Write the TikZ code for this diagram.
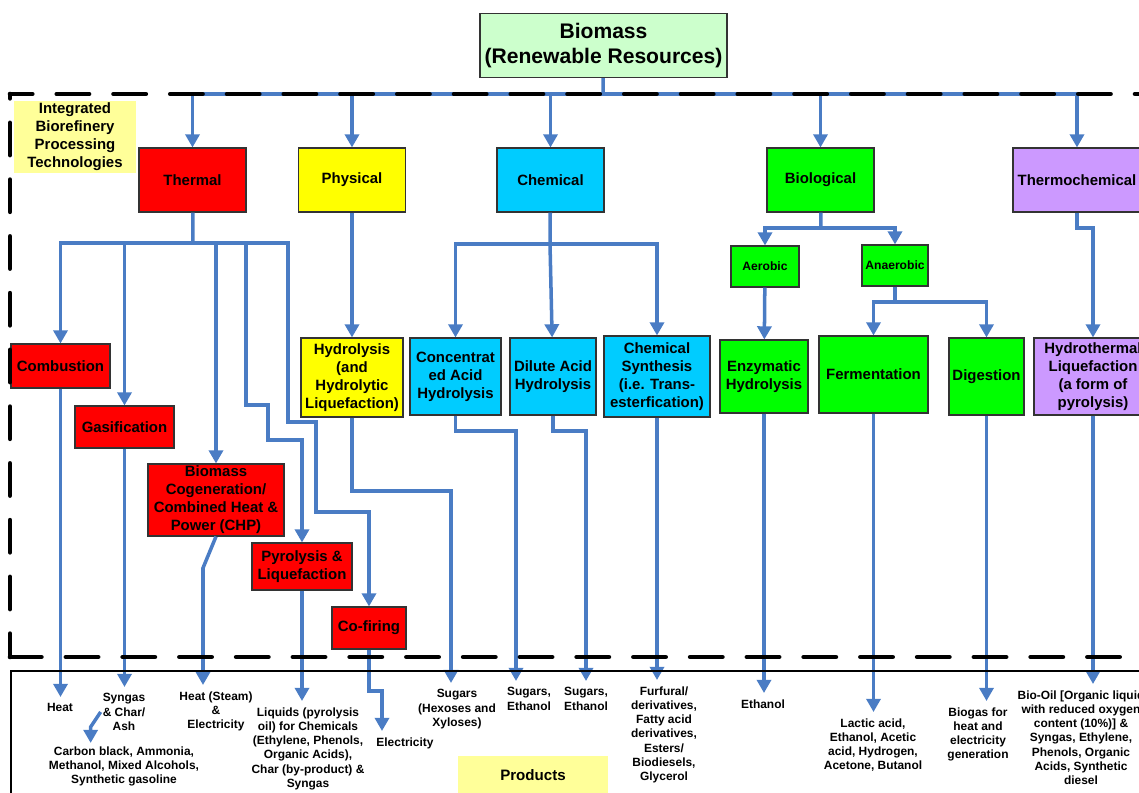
\documentclass[tikz,border=0pt]{standalone}
\usepackage{fontspec}
\setmainfont{Liberation Sans}
\usetikzlibrary{arrows.meta}
\definecolor{flowblue}{RGB}{74,124,196}
\definecolor{massgreen}{RGB}{204,255,204}
\definecolor{notey}{RGB}{255,255,153}
\definecolor{thermred}{RGB}{255,0,0}
\definecolor{physyel}{RGB}{255,255,0}
\definecolor{chemcyan}{RGB}{0,204,255}
\definecolor{biogreen}{RGB}{0,255,0}
\definecolor{tcpurple}{RGB}{204,153,255}

\begin{document}
\begin{tikzpicture}[x=0.02cm, y=-0.02cm,
  box/.style={draw=black!80, line width=0.6pt, align=center, inner sep=1pt,
    font=\fontsize{8.5}{10.2}\selectfont\bfseries},
  sz/.style 2 args={minimum width=#1*0.02cm, minimum height=#2*0.02cm},
  small/.style={font=\fontsize{6.9}{8}\selectfont\bfseries},
  prod/.style={anchor=north, align=center, inner xsep=1pt, inner ysep=3.5pt,
    font=\fontsize{6.8}{8.1}\selectfont\bfseries},
  link/.style={draw=flowblue, line width=2pt},
  arr/.style={link, -{Triangle[width=8pt,length=7.5pt]}},
  frame/.style={line width=2.6pt, line cap=round, dash pattern=on 18.4pt off 13.9pt}]
\useasboundingbox (0,0) rectangle (1139,793);
\clip (0,0) rectangle (1139,793);

% top level
\node[box, fill=massgreen, sz={247}{64}, font=\fontsize{12}{14.2}\selectfont\bfseries] (biomass) at (603.5,45.5) {Biomass\\(Renewable Resources)};
\node[fill=notey, sz={122}{72}, align=center, inner sep=1pt, font=\fontsize{8.5}{10.2}\selectfont\bfseries] (note) at (75,137) {Integrated\\Biorefinery\\Processing\\Technologies};
\coordinate (bus) at (603,94);

\node[box, fill=thermred, sz={107}{64}] (thermal) at (192.5,180) {Thermal};
\node[box, fill=physyel, sz={107}{64}] (phys) at (352,180) {Physical};
\node[box, fill=chemcyan, sz={107}{64}] (chem) at (550.5,180) {Chemical};
\node[box, fill=biogreen, sz={107}{64}] (bio) at (820.5,180) {Biological};
\node[box, fill=tcpurple, sz={128}{64}] (thch) at (1077,180) {Thermochemical};

% thermal
\node[box, fill=thermred, sz={99}{44}] (comb) at (60.5,366) {Combustion};
\node[box, fill=thermred, sz={99}{42}] (gas) at (124.5,427) {Gasification};
\node[box, fill=thermred, sz={136}{72}] (chp) at (216,500) {Biomass\\Cogeneration/\\Combined Heat \&\\Power (CHP)};
\node[box, fill=thermred, sz={100}{47}] (pyro) at (302,566.5) {Pyrolysis \&\\Liquefaction};
\node[box, fill=thermred, sz={74}{42}] (cofire) at (369,628) {Co-firing};

% physical and chemical
\node[box, fill=physyel, sz={102}{79}] (hydro) at (352,377.5) {Hydrolysis\\(and\\Hydrolytic\\Liquefaction)};
\node[box, fill=chemcyan, sz={91}{77}] (conc) at (455.5,376.5) {Concentrat\\ed Acid\\Hydrolysis};
\node[box, fill=chemcyan, sz={86}{77}] (dil) at (553,376.5) {Dilute Acid\\Hydrolysis};
\node[box, fill=chemcyan, sz={106}{81}] (chsyn) at (657,376.5) {Chemical\\Synthesis\\(i.e. Trans-\\esterfication)};

% biological and thermochemical
\node[box, small, fill=biogreen, sz={68}{41}] (aer) at (765,266.5) {Aerobic};
\node[box, small, fill=biogreen, sz={66}{41}] (anaer) at (895,265.5) {Anaerobic};
\node[box, fill=biogreen, sz={88}{73}] (enz) at (764,376.5) {Enzymatic\\Hydrolysis};
\node[box, fill=biogreen, sz={109}{77}] (ferm) at (873.5,374.5) {Fermentation};
\node[box, fill=biogreen, sz={75}{77}] (dig) at (986.5,376.5) {Digestion};
\node[box, fill=tcpurple, sz={118}{77}] (hyth) at (1093,376.5) {Hydrothermal\\Liquefaction\\(a form of\\pyrolysis)};

% products
\node[fill=notey, sz={150}{38}, font=\fontsize{8.6}{10}\selectfont\bfseries] (products) at (533,775) {Products};
\node[prod] (heat) at (60,697) {Heat};
\node[prod] (syngas) at (124,687) {Syngas\\\& Char/\\Ash};
\node[prod] (carbon) at (124,740) {Carbon black, Ammonia,\\Methanol, Mixed Alcohols,\\Synthetic gasoline};
\node[prod] (steam) at (216,685) {Heat (Steam)\\\&\\Electricity};
\node[prod] (liquids) at (308,701) {Liquids (pyrolysis\\oil) for Chemicals\\(Ethylene, Phenols,\\Organic Acids),\\Char (by-product) \&\\Syngas};
\node[prod] (elec) at (405,731) {Electricity};
\node[prod] (sugars) at (457,683) {Sugars\\(Hexoses and\\Xyloses)};
\node[prod] (sug1) at (529,681) {Sugars,\\Ethanol};
\node[prod] (sug2) at (586,681) {Sugars,\\Ethanol};
\node[prod] (furf) at (664,680) {Furfural/\\derivatives,\\Fatty acid\\derivatives,\\Esters/\\Biodiesels,\\Glycerol};
\node[prod] (eth) at (763,693) {Ethanol};
\node[prod] (lactic) at (873,712) {Lactic acid,\\Ethanol, Acetic\\acid, Hydrogen,\\Acetone, Butanol};
\node[prod] (biogas) at (978,701) {Biogas for\\heat and\\electricity\\generation};
\node[prod] (biooil) at (1081,684) {Bio-Oil [Organic liquid\\with reduced oxygen\\content (10\%)] \&\\Syngas, Ethylene,\\Phenols, Organic\\Acids, Synthetic\\diesel};

% biomass to technologies
\draw[link] (biomass) -- (bus);
\draw[link] (thermal |- bus) -- (thch |- bus);
\draw[arr] (thermal |- bus) -- (thermal);
\draw[arr] (phys |- bus) -- (phys);
\draw[arr] (chem |- bus) -- (chem);
\draw[arr] (bio |- bus) -- (bio);
\draw[arr] (thch |- bus) -- (thch);

% thermal branches
\coordinate (tb) at (193,243);
\draw[link] (thermal) -- (tb);
\draw[arr] (tb) -| (comb);
\draw[arr] (tb) -| (gas);
\draw[arr] (tb) -| (chp);
\draw[arr] (tb) -| (246,405) -| (268,440) -| (pyro);
\draw[arr] (tb) -| (288,422) -| (316,512) -| (cofire);
\draw[arr] (comb) -- (comb |- heat.north);
\draw[arr] (gas) -- (gas |- syngas.north);
\draw[arr] (syngas.west) -- ++(-10,15) -- ++(0,16);
\draw[arr] (chp.south) -- (203,568) -- (203,0 |- steam.north);
\draw[arr] (pyro) -- (pyro |- liquids.north);
\draw[arr] (cofire) |- (382,691) -- (382,0 |- elec.north);

% physical
\draw[arr] (phys) -- (hydro);
\draw[arr] (hydro) |- (451,491) -- (451,0 |- sugars.north);

% chemical
\coordinate (cb) at (550,244);
\draw[link] (chem) -- (cb);
\draw[arr] (cb) -| (conc);
\draw[arr] (cb) -- (dil);
\draw[arr] (cb) -| (chsyn);
\draw[arr] (conc) |- (516,431) -- (516,0 |- sug1.north);
\draw[arr] (dil) |- (586,431) -- (586,0 |- sug2.north);
\draw[arr] (chsyn) -- (chsyn |- furf.north);

% biological
\coordinate (bb) at (821,228);
\coordinate (ab) at (895,302);
\draw[link] (bio) -- (bb);
\draw[arr] (bb) -| (aer);
\draw[arr] (bb) -| (anaer);
\draw[arr] (aer) -- (enz);
\draw[link] (anaer) -- (ab);
\draw[arr] (ab) -| (ferm);
\draw[arr] (ab) -| (dig);
\draw[arr] (enz) -- (enz |- eth.north);
\draw[arr] (ferm) -- (ferm |- lactic.north);
\draw[arr] (dig) -- (dig |- biogas.north);

% thermochemical
\draw[arr] (thch) |- (1093,228) -- (hyth);
\draw[arr] (hyth) -- (hyth |- biooil.north);

% frames
\draw[frame, dash phase=5.7pt] (10,94) -- (1160,94);
\draw[frame, dash phase=15.9pt] (10,94) -- (10,657);
\draw[frame, dash phase=0.5pt] (10,657) -- (1160,657);
\draw[line width=0.7pt] (1160,671) -- (11,671) -- (11,800);
\end{tikzpicture}
\end{document}
